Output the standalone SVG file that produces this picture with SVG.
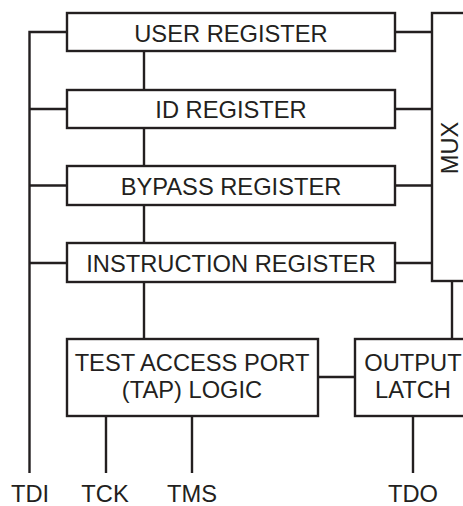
<svg xmlns="http://www.w3.org/2000/svg" width="463" height="506" viewBox="0 0 463 506">
<style>
.box{fill:#fff;stroke:#231f20;stroke-width:2.4}
.ln{fill:none;stroke:#231f20;stroke-width:2.4}
text{font-family:"Liberation Sans",Arial,sans-serif;font-size:23.7px;fill:#231f20;text-anchor:middle}
</style>
<rect width="463" height="506" fill="#fff"/>
<g id="connectors">
<path class="ln" d="M29.5,473 V32 H67"/>
<path class="ln" d="M29.5,109 H67 M29.5,185.5 H67 M29.5,263 H67"/>
<path class="ln" d="M395,32 H432 M395,109 H432 M395,185.5 H432 M395,263 H432"/>
<path class="ln" d="M144,51 V90 M144,128 V166 M144,205 V243 M144,282 V339"/>
<path class="ln" d="M452,281 V339"/>
<path class="ln" d="M318,377 H355"/>
<path class="ln" d="M106,416 V473 M192,416 V473 M413,416 V473"/>
</g>
<g id="user-register"><rect class="box" x="67" y="13" width="328" height="38"/><text x="231" y="41.5">USER REGISTER</text></g>
<g id="id-register"><rect class="box" x="67" y="90" width="328" height="38"/><text x="231" y="118">ID REGISTER</text></g>
<g id="bypass-register"><rect class="box" x="67" y="166" width="328" height="39"/><text x="231" y="195">BYPASS REGISTER</text></g>
<g id="instruction-register"><rect class="box" x="67" y="243" width="328" height="39"/><text x="231" y="272">INSTRUCTION REGISTER</text></g>
<g id="mux"><rect class="box" x="432" y="13" width="40" height="268"/><text transform="translate(458,148) rotate(-90)">MUX</text></g>
<g id="tap-logic"><rect class="box" x="67" y="339" width="251" height="77"/><text x="192" y="371">TEST ACCESS PORT</text><text x="192" y="398">(TAP) LOGIC</text></g>
<g id="output-latch"><rect class="box" x="355" y="339" width="120" height="77"/><text x="413" y="371">OUTPUT</text><text x="413" y="398">LATCH</text></g>
<g id="labels"><text x="30" y="502">TDI</text><text x="105" y="502">TCK</text><text x="192" y="502">TMS</text><text x="413" y="502">TDO</text></g>
</svg>
